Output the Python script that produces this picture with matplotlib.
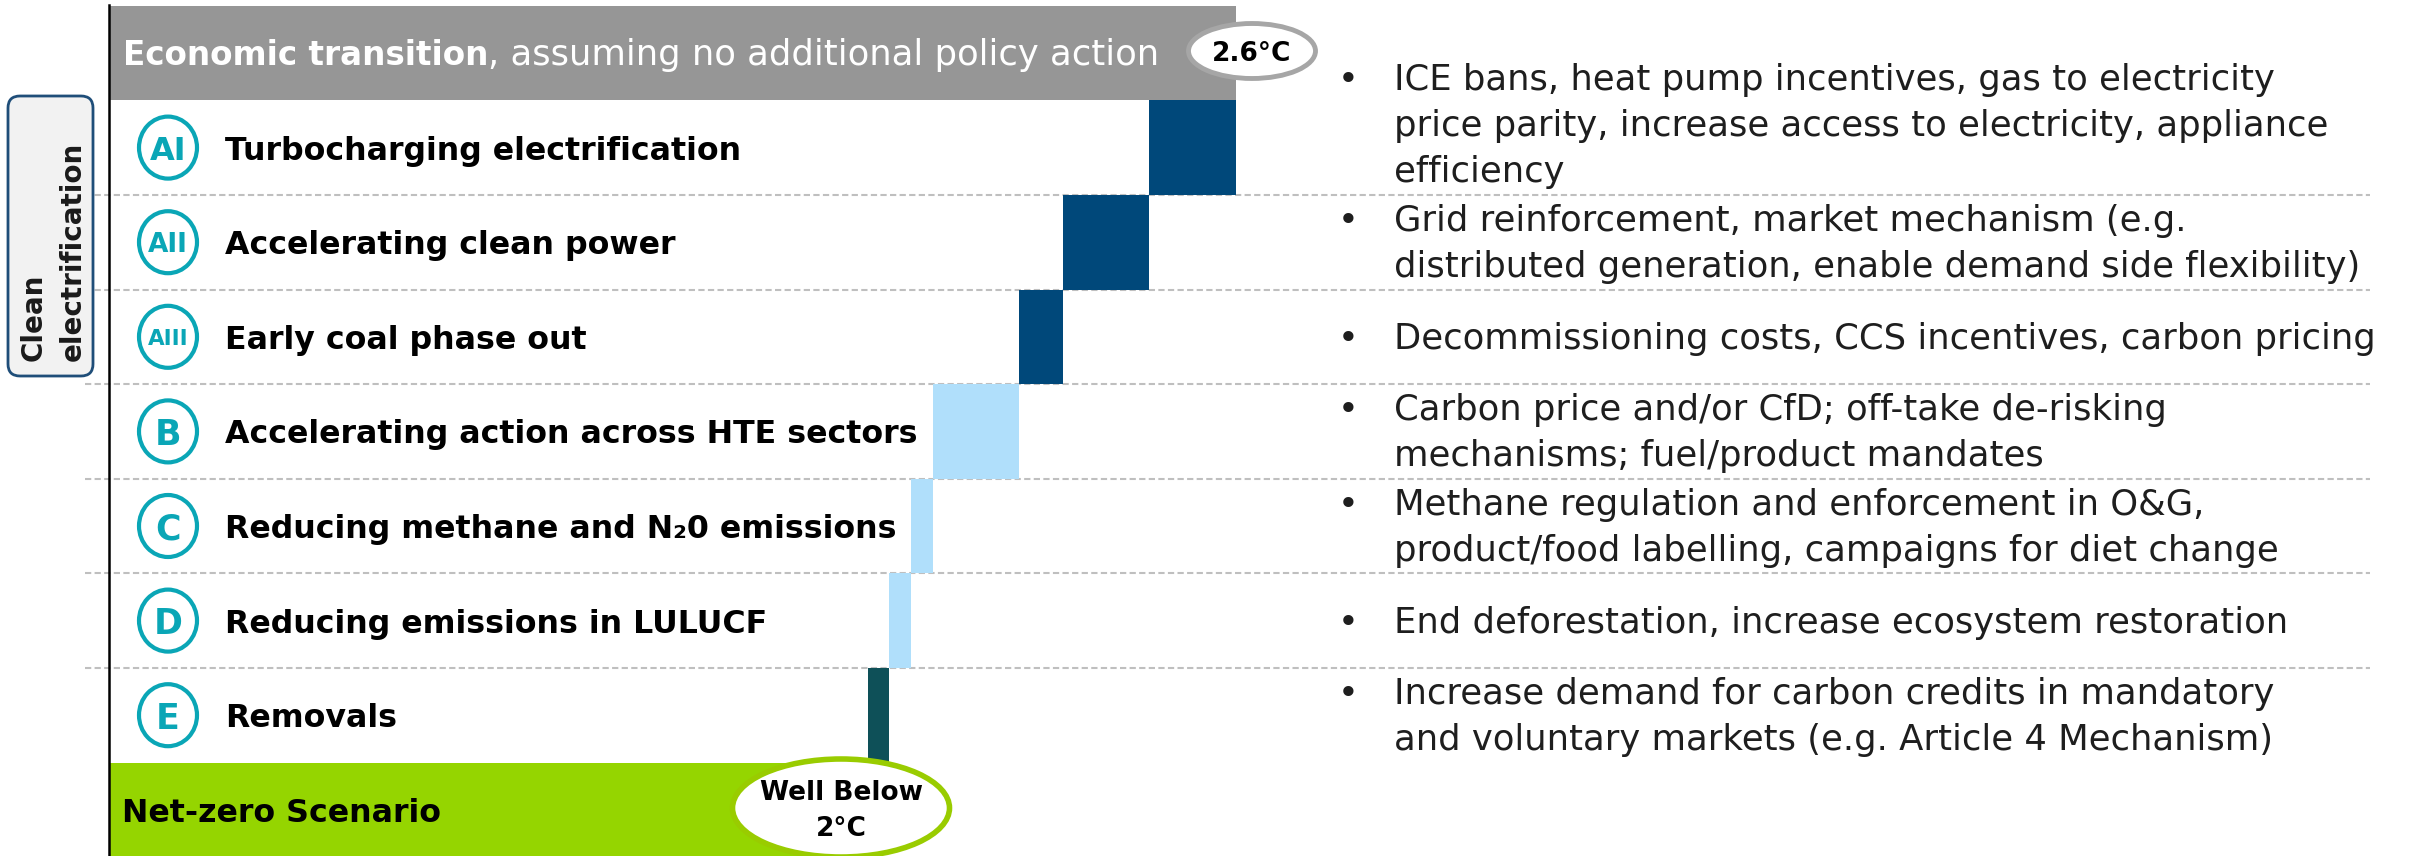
import matplotlib
matplotlib.use('Agg')
import matplotlib.pyplot as plt
import matplotlib.transforms as mtransforms
from matplotlib.patches import Ellipse, FancyBboxPatch
import numpy as np

# --- data ---
baseline_temp = 2.6
baseline_badge = '2.6°C'
codes = ['AI', 'AII', 'AIII', 'B', 'C', 'D', 'E']
levers = ['Turbocharging electrification',
          'Accelerating clean power',
          'Early coal phase out',
          'Accelerating action across HTE sectors',
          'Reducing methane and N\u20820 emissions',
          'Reducing emissions in LULUCF',
          'Removals']
reductions = [0.2, 0.2, 0.1, 0.2, 0.05, 0.05, 0.05]
policy_notes = [
    'ICE bans, heat pump incentives, gas to electricity\nprice parity, increase access to electricity, appliance\nefficiency',
    'Grid reinforcement, market mechanism (e.g.\ndistributed generation, enable demand side flexibility)',
    'Decommissioning costs, CCS incentives, carbon pricing',
    'Carbon price and/or CfD; off-take de-risking\nmechanisms; fuel/product mandates',
    'Methane regulation and enforcement in O&G,\nproduct/food labelling, campaigns for diet change',
    'End deforestation, increase ecosystem restoration',
    'Increase demand for carbon credits in mandatory\nand voluntary markets (e.g. Article 4 Mechanism)',
]
netzero_label = 'Net-zero Scenario'
netzero_badge = 'Well Below\n2°C'
group_label = 'Clean\nelectrification'

# --- colours ---
GREY = '#969696'
DARK_BLUE = '#00487a'
LIGHT_BLUE = '#b0dffb'
DARK_TEAL = '#0e5058'
GREEN = '#95d500'
RING_GREEN = '#99cc00'
TEAL = '#0aa6b6'
bar_colors = [DARK_BLUE, DARK_BLUE, DARK_BLUE, LIGHT_BLUE, LIGHT_BLUE, LIGHT_BLUE, DARK_TEAL]

# --- layout (output pixels) ---
W, H, DPI = 2413, 856, 100
X0_PX = 109          # x of 0 degC
PX_PER_DEG = 433.5
ROW0_PX = 53         # centre of first row (from top)
ROW_PX = 94.6        # row pitch

fig = plt.figure(figsize=(W / DPI, H / DPI), dpi=DPI)
ax = fig.add_axes([0, 0, 1, 1])
ax.set_xlim(-X0_PX / PX_PER_DEG, (W - X0_PX) / PX_PER_DEG)
ax.set_ylim((H - ROW0_PX) / ROW_PX, -ROW0_PX / ROW_PX)
ax.axis('off')

# pixel coordinates measured from the top-left corner
PX = mtransforms.Affine2D().scale(1 / DPI) + fig.dpi_scale_trans
def fy(y):
    return H - y

def row_px(r):
    return ROW0_PX + ROW_PX * r

def x_data(px):
    return (px - X0_PX) / PX_PER_DEG

n = len(levers)
rows = np.arange(1, n + 1)
ends = baseline_temp - np.cumsum(reductions)
final_temp = ends[-1]

# waterfall
ax.barh(0, baseline_temp, height=1, color=GREY, zorder=2)
ax.barh(rows, reductions, left=ends, height=1, color=bar_colors, zorder=2)
ax.barh(n + 1, final_temp, height=1, color=GREEN, zorder=2)

# row separators
for r in rows[:-1] + 0.5:
    ax.plot([x_data(85), x_data(2370)], [r, r], color='#bfbfbf', lw=1.5,
            dashes=(3, 1.6), zorder=1)

# vertical axis line
ax.plot([0, 0], [-0.51, (H - ROW0_PX) / ROW_PX], color='black', lw=1.8, zorder=3)

# header
t1 = ax.text(123, fy(52), 'Economic transition', transform=PX, color='white',
             fontsize=23.5, fontweight='bold', va='center_baseline', zorder=4)
ax.annotate(', assuming no additional policy action', xy=(1, 0), xycoords=t1,
            va='bottom', ha='left', color='white', fontsize=25.5, zorder=4)

ax.add_patch(Ellipse((1252, fy(51)), 127, 55, transform=PX, fc='white',
                     ec='#a6a6a6', lw=3.5, zorder=5))
ax.text(1252, fy(51), baseline_badge, transform=PX, ha='center',
        va='center_baseline', fontsize=19, fontweight='bold', zorder=6)

# lever labels
code_size = {1: 25, 2: 23, 3: 19, 4: 15.5}
for r, code, lever in zip(rows, codes, levers):
    cy = row_px(r)
    ax.add_patch(Ellipse((168, fy(cy)), 58, 62, transform=PX, fc='white',
                         ec=TEAL, lw=3, zorder=5))
    ax.text(168, fy(cy), code, transform=PX, ha='center', va='center_baseline',
            color=TEAL, fontsize=code_size[len(code)], fontweight='bold',
            zorder=6)
    ax.text(225, fy(cy), lever, transform=PX, ha='left', va='center_baseline',
            fontsize=22.8, fontweight='bold', color='black', zorder=4)

# net-zero row
ax.text(122, fy(row_px(n + 1)), netzero_label, transform=PX, ha='left',
        va='center_baseline', fontsize=22.8, fontweight='bold', zorder=4)
ax.add_patch(Ellipse((841, fy(808)), 217, 98, transform=PX, fc='white',
                     ec=RING_GREEN, lw=4, zorder=5))
ax.text(841, fy(811), netzero_badge, transform=PX, ha='center', va='center',
        fontsize=19, fontweight='bold', linespacing=1.5, zorder=6)

# group box
ax.add_patch(FancyBboxPatch((8, fy(376)), 85, 280, transform=PX,
                            boxstyle='round,pad=0,rounding_size=12',
                            fc='#f2f2f2', ec='#1f4e79', lw=2, zorder=4))
ax.text(53, fy(251), group_label, transform=PX, rotation=90, ha='center',
        va='center', multialignment='left', fontsize=20, fontweight='bold',
        color='#1a1a1a', linespacing=1.5, zorder=5)

# policy notes, one text per line so the bullet sits on the first line
note_shift = [-24, 0, 0, 0, 0, 0, 0]
LINE_PX = 46
for r, note, shift in zip(rows, policy_notes, note_shift):
    lines = note.split('\n')
    first = row_px(r) + shift - (len(lines) - 1) / 2 * LINE_PX
    ax.text(1338, fy(first + 12), '\u2022', transform=PX, ha='left',
            va='baseline', fontsize=25.5, color='#1e1e1e', zorder=4)
    for j, line in enumerate(lines):
        ax.text(1394, fy(first + 12 + j * LINE_PX), line, transform=PX,
                ha='left', va='baseline', fontsize=25.5, color='#1e1e1e',
                zorder=4)

fig.savefig('out.png', dpi=DPI)
